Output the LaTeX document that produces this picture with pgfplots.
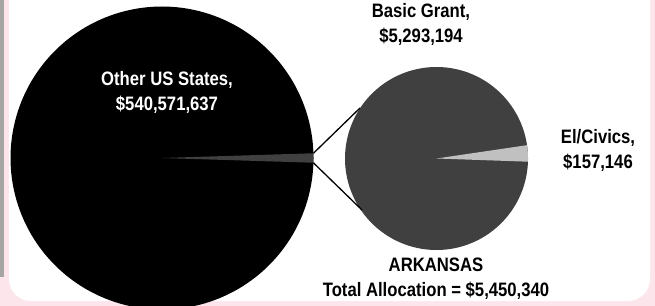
\documentclass[border=0pt]{standalone}
\usepackage{pgfplots}
\pgfplotsset{compat=1.18}
\usepackage{fontspec}
\setmainfont{Liberation Sans}
\definecolor{bgpink}{RGB}{252,229,235}
\definecolor{darkg}{RGB}{64,64,64}
\definecolor{lightg}{RGB}{192,192,192}
\definecolor{stripg}{RGB}{165,165,165}
\newcommand{\lbl}[1]{\scalebox{0.97}[1.13]{\fontsize{17.2bp}{21.5bp}\selectfont\bfseries\begin{tabular}{@{}c@{}}#1\end{tabular}}}
\begin{document}
\begin{tikzpicture}
% allocations in millions of dollars
\def\vOther{540.571637}
\def\vArk{5.450340}
\def\vBasic{5.293194}
\def\vEl{0.157146}
\pgfmathsetmacro{\aArk}{360*\vArk/(\vOther+\vArk)}
\pgfmathsetmacro{\aEl}{360*\vEl/(\vBasic+\vEl)}
\pgfmathsetmacro{\aArkLo}{-\aArk/2}
\pgfmathsetmacro{\aArkHi}{\aArk/2}
\pgfmathsetmacro{\aElLo}{-2}
\pgfmathsetmacro{\aElHi}{-2+\aEl}
\begin{axis}[width=655bp,height=306bp,scale only axis,
  xmin=0,xmax=655,ymin=0,ymax=306,y dir=reverse,hide axis]
% background
\addplot[fill=bgpink,draw=none] coordinates {(0,0)(655,0)(655,306)(0,306)} -- cycle;
\addplot[fill=stripg,draw=none] coordinates {(0,0)(3.5,0)(3.5,277)(0,277)} -- cycle;
\addplot[fill=white,draw=none,rounded corners=22bp] coordinates {(9,-40)(650,-40)(650,301)(9,301)} -- cycle;
% big pie: Other US States + Arkansas
\addplot[fill=black,draw=none,domain=0:360,samples=181,variable=\t]
  ({162+151.5*cos(t)},{158-151.5*sin(t)}) -- cycle;
\addplot[fill=darkg,draw=none,domain=\aArkLo:\aArkHi,samples=20,variable=\t]
  ({162+151.5*cos(t)},{158-151.5*sin(t)}) -- (162,158) -- cycle;
% small pie: Arkansas breakdown
\addplot[fill=darkg,draw=none,domain=0:360,samples=181,variable=\t]
  ({436.5+91.5*cos(t)},{158.5-91.5*sin(t)}) -- cycle;
\addplot[fill=lightg,draw=none,domain=\aElLo:\aElHi,samples=20,variable=\t]
  ({436.5+91.5*cos(t)},{158.5-91.5*sin(t)}) -- (436.5,158.5) -- cycle;
% connector lines
\addplot[black,line width=1.3bp] coordinates {(313.4,153.3)(360,108)};
\addplot[black,line width=1.3bp] coordinates {(313.4,162.8)(362,210)};
\end{axis}
\begin{axis}[width=655bp,height=306bp,scale only axis,
  xmin=0,xmax=655,ymin=0,ymax=306,y dir=reverse,hide axis,clip=false]
\node[inner sep=0pt,text=white] at (axis cs:167,93) {\lbl{Other US States,\\\$540,571,637}};
\node[inner sep=0pt] at (axis cs:421,25) {\lbl{Basic Grant,\\\$5,293,194}};
\node[inner sep=0pt] at (axis cs:598,151) {\lbl{El/Civics,\\\$157,146}};
\node[inner sep=0pt] at (axis cs:436,279) {\lbl{ARKANSAS\\Total Allocation = \$5,450,340}};
\end{axis}
\pgfresetboundingbox
\path[use as bounding box] (current axis.south west) rectangle (current axis.north east);
\end{tikzpicture}
\end{document}
